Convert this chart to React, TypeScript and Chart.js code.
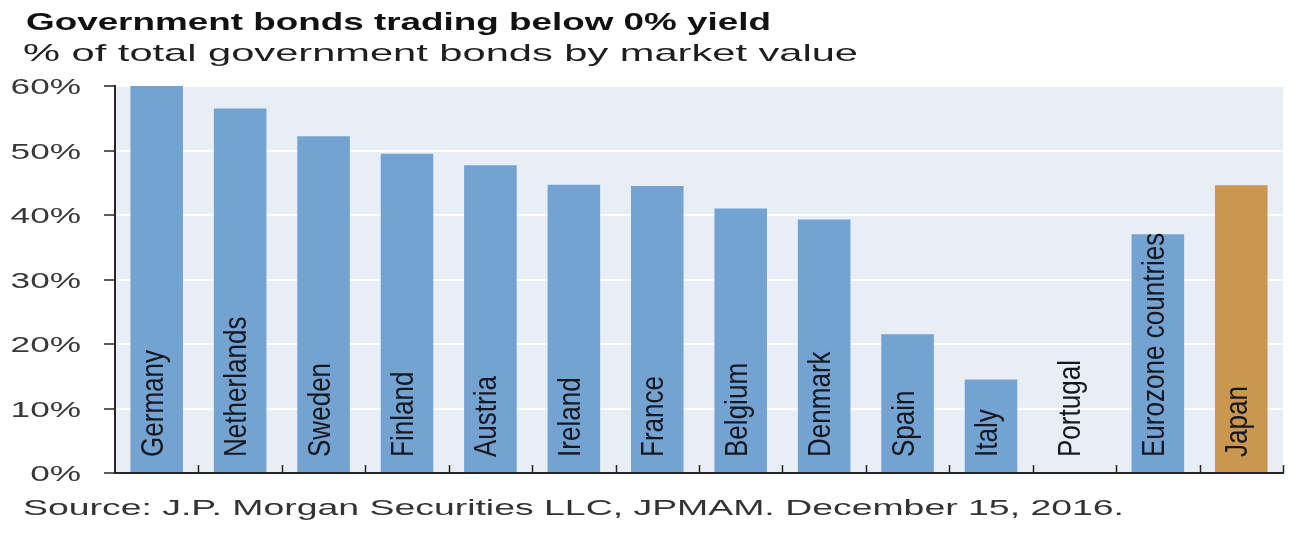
import { useEffect, useRef } from "react"
import { Chart, registerables, type ChartConfiguration } from "chart.js"

Chart.register(...registerables)

const categories = [
  "Germany",
  "Netherlands",
  "Sweden",
  "Finland",
  "Austria",
  "Ireland",
  "France",
  "Belgium",
  "Denmark",
  "Spain",
  "Italy",
  "Portugal",
  "Eurozone countries",
  "Japan",
]
const negativeShare = [60, 56.5, 52.2, 49.5, 47.7, 44.7, 44.5, 41.0, 39.3, 21.5, 14.5, 0, 37.0, 44.6]
const yTickValues = [0, 10, 20, 30, 40, 50, 60]
const highlighted = "Japan"

const titleText = "Government bonds trading below 0% yield"
const subtitleText = "% of total government bonds by market value"
const sourceText = "Source: J.P. Morgan Securities LLC, JPMAM. December 15, 2016."

const FONT = '"Liberation Sans", Arial, Helvetica, sans-serif'
const BLUE = "#74a3d2"
const GOLD = "#c9974f"
const PLOT_BG = "#e8eef5"
const AXIS = "#262626"

// draws text stretched horizontally so it spans the given width
function fitText(ctx: CanvasRenderingContext2D, text: string, x: number, y: number, font: string, width: number, color: string) {
  ctx.save()
  ctx.font = font
  ctx.fillStyle = color
  ctx.textAlign = "left"
  ctx.textBaseline = "alphabetic"
  const natural = ctx.measureText(text).width
  ctx.translate(x, y)
  ctx.scale(width / natural, 1)
  ctx.fillText(text, 0, 0)
  ctx.restore()
}

const decorations = {
  id: "decorations",
  beforeDraw(chart: any) {
    const { ctx, chartArea, width, height } = chart
    ctx.save()
    ctx.fillStyle = "#ffffff"
    ctx.fillRect(0, 0, width, height)
    ctx.fillStyle = PLOT_BG
    ctx.fillRect(chartArea.left, chartArea.top, chartArea.right - chartArea.left, chartArea.bottom - chartArea.top)
    ctx.restore()
  },
  afterDatasetsDraw(chart: any) {
    const { ctx, chartArea } = chart
    const meta = chart.getDatasetMeta(0)
    ctx.save()
    ctx.font = `28px ${FONT}`
    ctx.fillStyle = "#141820"
    ctx.textAlign = "left"
    ctx.textBaseline = "alphabetic"
    meta.data.forEach((bar: any, i: number) => {
      ctx.save()
      ctx.translate(bar.x + 6, chartArea.bottom - 16)
      ctx.rotate(-Math.PI / 2)
      ctx.scale(0.93, 1.1)
      ctx.fillText(categories[i], 0, 0)
      ctx.restore()
    })
    ctx.restore()
  },
  afterDraw(chart: any) {
    const { ctx, chartArea } = chart
    const xs = chart.scales.x
    const ys = chart.scales.y

    // inward tick marks between categories
    ctx.save()
    ctx.strokeStyle = AXIS
    ctx.lineWidth = 1.5
    const band = (xs.right - xs.left) / categories.length
    for (let i = 1; i <= categories.length; i++) {
      const x = Math.round(xs.left + i * band) + 0.5
      ctx.beginPath()
      ctx.moveTo(x, chartArea.bottom)
      ctx.lineTo(x, chartArea.bottom - 8)
      ctx.stroke()
    }
    ctx.restore()

    // y tick labels
    ctx.save()
    ctx.font = `22px ${FONT}`
    ctx.fillStyle = "#383838"
    ctx.textBaseline = "alphabetic"
    yTickValues.forEach((v) => {
      const label = `${v}%`
      const y = ys.getPixelForValue(v) + 8
      const natural = ctx.measureText(label).width
      const sx = 1.6
      ctx.save()
      ctx.translate(81 - natural * sx, y)
      ctx.scale(sx, 1)
      ctx.fillText(label, 0, 0)
      ctx.restore()
    })
    ctx.restore()

    fitText(ctx, titleText, 26, 30, `bold 24px ${FONT}`, 745, "#111111")
    fitText(ctx, subtitleText, 23, 61, `24px ${FONT}`, 835, "#1e1e1e")
    fitText(ctx, sourceText, 23, 515, `22px ${FONT}`, 1101, "#333333")
  },
}

function BondsChart() {
  const canvasRef = useRef<HTMLCanvasElement>(null)
  const chartRef = useRef<Chart | null>(null)

  useEffect(() => {
    if (!canvasRef.current) return
    if (chartRef.current) chartRef.current.destroy()

    const config: ChartConfiguration<"bar"> = {
      type: "bar",
      data: {
        labels: categories,
        datasets: [
          {
            data: negativeShare,
            backgroundColor: categories.map((c) => (c === highlighted ? GOLD : BLUE)),
            borderWidth: 0,
            barPercentage: 0.63,
            categoryPercentage: 1,
          },
        ],
      },
      options: {
        responsive: true,
        maintainAspectRatio: false,
        animation: false,
        devicePixelRatio: 1,
        layout: { padding: { left: 0, top: 86, right: 23, bottom: 60 } },
        plugins: {
          legend: { display: false },
          tooltip: { enabled: false },
          title: { display: false },
        },
        scales: {
          x: {
            grid: { display: false },
            ticks: { display: false },
            border: { display: true, color: AXIS, width: 2 },
            afterFit: (s: any) => {
              s.height = 0
            },
          },
          y: {
            min: 0,
            max: 60,
            ticks: { display: false, stepSize: 10 },
            grid: {
              color: (c: any) => (c.tick && c.tick.value === 0 ? "rgba(0,0,0,0)" : "#ffffff"),
              lineWidth: 2,
              tickColor: AXIS,
              tickWidth: 1.5,
              tickLength: 11,
              drawTicks: true,
            },
            border: { display: true, color: AXIS, width: 2 },
            afterFit: (s: any) => {
              s.width = 115
            },
          },
        },
      },
      plugins: [decorations],
    }

    chartRef.current = new Chart(canvasRef.current, config)

    return () => {
      if (chartRef.current) {
        chartRef.current.destroy()
        chartRef.current = null
      }
    }
  }, [])

  return (
    <div style={{ position: "fixed", left: 0, top: 0, width: 1306, height: 533, background: "#fff" }}>
      <canvas ref={canvasRef} />
    </div>
  )
}

export default function App() {
  return <BondsChart />
}
